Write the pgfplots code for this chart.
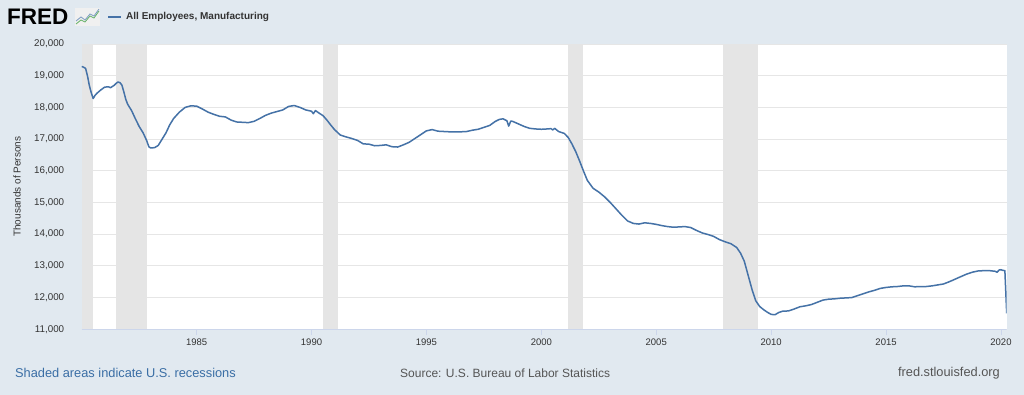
\documentclass[border=0pt]{standalone}
\usepackage{fontspec}
\setmainfont{Liberation Sans}
\usepackage{pgfplots}
\pgfplotsset{compat=1.18}
\definecolor{bgcol}{HTML}{E1E9F0}
\definecolor{fredblue}{HTML}{4572A7}
\definecolor{reccol}{HTML}{E5E5E5}
\definecolor{gridcol}{HTML}{E6E6E6}
\definecolor{axiscol}{HTML}{CCD6EB}
\definecolor{txtcol}{HTML}{333333}
\definecolor{linkcol}{HTML}{3A6EA5}
\definecolor{srccol}{HTML}{555555}
\begin{document}
\begin{tikzpicture}[x=1pt,y=1pt]
\fill[bgcol] (0,0) rectangle (1024,395);
\useasboundingbox (0,0) rectangle (1024,395);
\begin{axis}[
  at={(81.7pt,65.7pt)}, anchor=south west,
  scale only axis, width=925pt, height=285.3pt,
  xmin=1980, xmax=2020.25, ymin=11000, ymax=20000,
  axis background/.style={fill=white},
  axis line style={draw=none},
  xtick={1985,1990,...,2020},
  ytick={11000,12000,...,20000},
  scaled y ticks=false, scaled x ticks=false,
  ymajorgrids, grid style={gridcol, line width=0.8pt},
  tick align=outside, xtick pos=bottom, ytick pos=left,
  major tick length=6pt,
  x tick style={draw=axiscol, line width=0.8pt},
  y tick style={draw=none},
  /pgf/number format/assume math mode=true,
  xticklabel style={font=\fontsize{9.5}{11}\selectfont, text=txtcol, /pgf/number format/1000 sep={}},
  yticklabel style={font=\fontsize{9.8}{11}\selectfont, text=txtcol, /pgf/number format/1000 sep={,}, xshift=-8pt},
  ylabel={Thousands of Persons},
  ylabel style={font=\fontsize{10}{12}\selectfont, text=txtcol, at={(axis description cs:-0.0699,0.5)}, anchor=center},
  clip=true,
]
\addplot[fill=reccol, draw=none] coordinates {(1980.0,20000) (1980.5,20000)} \closedcycle;
\addplot[fill=reccol, draw=none] coordinates {(1981.5,20000) (1982.83,20000)} \closedcycle;
\addplot[fill=reccol, draw=none] coordinates {(1990.5,20000) (1991.17,20000)} \closedcycle;
\addplot[fill=reccol, draw=none] coordinates {(2001.17,20000) (2001.83,20000)} \closedcycle;
\addplot[fill=reccol, draw=none] coordinates {(2007.92,20000) (2009.42,20000)} \closedcycle;
\addplot[fredblue, line width=1.5pt, line join=round] table {
x y
1980.00 19290
1980.08 19270
1980.17 19230
1980.25 19000
1980.33 18700
1980.42 18450
1980.50 18280
1980.58 18380
1980.67 18450
1980.83 18550
1981.00 18640
1981.17 18650
1981.25 18620
1981.42 18700
1981.50 18760
1981.58 18800
1981.67 18780
1981.75 18700
1981.83 18500
1981.92 18250
1982.00 18100
1982.17 17900
1982.33 17650
1982.50 17400
1982.67 17200
1982.83 16950
1982.92 16760
1983.00 16720
1983.17 16730
1983.33 16800
1983.50 17000
1983.67 17200
1983.83 17450
1984.00 17650
1984.25 17850
1984.50 18000
1984.75 18050
1985.00 18040
1985.25 17950
1985.50 17850
1985.75 17780
1986.00 17720
1986.25 17700
1986.50 17600
1986.75 17540
1987.00 17530
1987.25 17520
1987.50 17560
1987.75 17650
1988.00 17750
1988.25 17820
1988.50 17870
1988.75 17920
1989.00 18030
1989.25 18060
1989.50 18000
1989.75 17920
1990.00 17880
1990.08 17800
1990.17 17900
1990.33 17820
1990.50 17740
1990.67 17600
1990.83 17450
1991.00 17300
1991.25 17130
1991.50 17070
1991.75 17020
1992.00 16960
1992.25 16850
1992.50 16840
1992.75 16790
1993.00 16800
1993.25 16820
1993.50 16760
1993.75 16750
1994.00 16820
1994.25 16900
1994.50 17020
1994.75 17140
1995.00 17260
1995.25 17300
1995.50 17250
1995.75 17240
1996.00 17230
1996.25 17230
1996.50 17230
1996.75 17240
1997.00 17280
1997.25 17310
1997.50 17370
1997.75 17430
1998.00 17560
1998.17 17620
1998.33 17640
1998.50 17580
1998.58 17410
1998.67 17570
1998.75 17560
1999.00 17480
1999.25 17400
1999.50 17340
1999.75 17320
2000.00 17310
2000.25 17320
2000.42 17330
2000.50 17290
2000.58 17340
2000.75 17240
2001.00 17180
2001.17 17050
2001.33 16850
2001.50 16600
2001.67 16300
2001.83 16000
2002.00 15700
2002.25 15450
2002.50 15330
2002.75 15180
2003.00 15000
2003.25 14800
2003.50 14600
2003.75 14420
2004.00 14340
2004.25 14320
2004.50 14360
2004.75 14340
2005.00 14310
2005.25 14270
2005.50 14240
2005.75 14220
2006.00 14230
2006.25 14240
2006.50 14210
2006.75 14120
2007.00 14040
2007.25 13990
2007.50 13930
2007.75 13830
2008.00 13760
2008.25 13700
2008.50 13580
2008.67 13400
2008.83 13150
2009.00 12700
2009.17 12250
2009.33 11900
2009.50 11720
2009.67 11620
2009.83 11540
2010.00 11470
2010.17 11460
2010.33 11530
2010.50 11570
2010.75 11580
2011.00 11640
2011.25 11710
2011.50 11740
2011.75 11780
2012.00 11850
2012.25 11920
2012.50 11950
2012.75 11960
2013.00 11980
2013.25 11990
2013.50 12000
2013.75 12060
2014.00 12120
2014.25 12180
2014.50 12230
2014.75 12290
2015.00 12320
2015.25 12340
2015.50 12350
2015.75 12370
2016.00 12370
2016.25 12340
2016.50 12350
2016.75 12350
2017.00 12370
2017.25 12400
2017.50 12430
2017.75 12500
2018.00 12580
2018.25 12660
2018.50 12740
2018.75 12800
2019.00 12840
2019.25 12850
2019.50 12850
2019.75 12830
2019.83 12800
2019.92 12870
2020.00 12880
2020.08 12860
2020.17 12850
2020.25 11500
};
\draw[axiscol, line width=0.8pt] (rel axis cs:0,0) -- (rel axis cs:1,0);
\end{axis}
% header
\node[anchor=west, inner sep=0pt, font=\fontsize{22.5}{24}\selectfont\bfseries, text=black] at (7,378) {FRED};
\fill[gray!12] (75,369) rectangle (100,387);
\draw[green!50!black!60, line width=0.8pt] (76,371) -- (81,375) -- (85,373) -- (90,379) -- (94,377) -- (99,384);
\draw[fredblue!70, line width=0.8pt] (76,374) -- (81,378) -- (85,375) -- (90,381) -- (94,379) -- (99,386);
\draw[fredblue, line width=1.5pt] (108,378) -- (121,378);
\node[anchor=west, inner sep=0pt, font=\fontsize{10}{12}\selectfont\bfseries, text=txtcol] at (126,378) {All Employees, Manufacturing};
% footer
\node[anchor=west, inner sep=0pt, font=\fontsize{12.8}{14}\selectfont, text=linkcol] at (15,22) {Shaded areas indicate U.S. recessions};
\node[anchor=west, inner sep=0pt, font=\fontsize{12}{14}\selectfont, text=srccol] at (400,22) {Source: U.S. Bureau of Labor Statistics};
\node[anchor=east, inner sep=0pt, font=\fontsize{12.8}{14}\selectfont, text=srccol] at (1000,22) {fred.stlouisfed.org};
\end{tikzpicture}
\end{document}
